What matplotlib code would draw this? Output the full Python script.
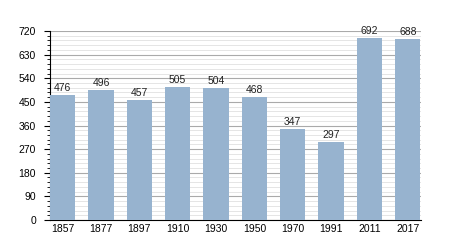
import numpy as np
import matplotlib.pyplot as plt
from matplotlib.ticker import MultipleLocator

plt.rcParams['font.family'] = ['Liberation Sans', 'DejaVu Sans']

years = ['1857', '1877', '1897', '1910', '1930', '1950', '1970', '1991', '2011', '2017']
population = [476, 496, 457, 505, 504, 468, 347, 297, 692, 688]

fig = plt.figure(figsize=(4.5, 2.5), dpi=100)
ax = fig.add_axes([0.111, 0.12, 0.825, 0.756])

x = np.arange(len(years))
ax.bar(x, population, width=0.66, color='#97b3cf', zorder=3)
for xi, v in zip(x, population):
    ax.text(xi, v + 8, str(v), ha='center', va='bottom', fontsize=7.5, color='#222222', zorder=4)

ax.set_xlim(-0.33, 9.35)
ax.set_ylim(0, 720)
ax.set_xticks(x)
ax.set_xticklabels(years)
ax.yaxis.set_major_locator(MultipleLocator(90))
ax.yaxis.set_minor_locator(MultipleLocator(18))
ax.grid(axis='y', which='major', color='#aaaaaa', lw=0.8, zorder=0)
ax.grid(axis='y', which='minor', color='#e0e0e0', lw=0.6, zorder=0)

for s in ['top', 'right']:
    ax.spines[s].set_visible(False)
ax.spines['left'].set_linewidth(0.8)
ax.spines['bottom'].set_linewidth(0.8)
ax.tick_params(axis='x', length=0, labelsize=7.5, pad=3)
ax.tick_params(axis='y', which='major', length=4, labelsize=7.5, pad=6)
ax.tick_params(axis='y', which='minor', length=2)

fig.savefig('out.png', dpi=100)
